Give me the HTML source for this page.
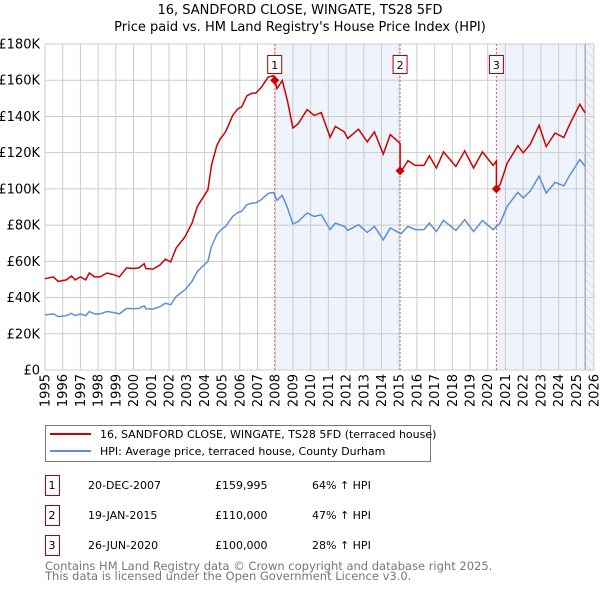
<!DOCTYPE html>
<html><head><meta charset="utf-8"><style>
body{margin:0;background:#fff;font-family:"DejaVu Sans","Liberation Sans",sans-serif;}
svg text{font-family:"DejaVu Sans","Liberation Sans",sans-serif;}
</style></head><body>
<svg id="c" width="600" height="590" xmlns="http://www.w3.org/2000/svg">
<defs><pattern id="hatch" width="6" height="6" patternUnits="userSpaceOnUse" patternTransform="rotate(-45)"><line x1="0" y1="0" x2="0" y2="6" stroke="#ccc" stroke-width="1"/></pattern></defs>
<text x="300" y="14" text-anchor="middle" font-size="13">16, SANDFORD CLOSE, WINGATE, TS28 5FD</text>
<text x="300" y="31" text-anchor="middle" font-size="13">Price paid vs. HM Land Registry's House Price Index (HPI)</text>
<g id="plot"></g>
<g>
<rect x="45.5" y="425.5" width="385" height="36" fill="#fff" stroke="#777"/>
<line x1="50" y1="434" x2="91" y2="434" stroke="#cc0000" stroke-width="2"/>
<text x="100" y="438" font-size="11">16, SANDFORD CLOSE, WINGATE, TS28 5FD (terraced house)</text>
<line x1="50" y1="451" x2="91" y2="451" stroke="#5b8fd6" stroke-width="2"/>
<text x="100" y="455" font-size="11">HPI: Average price, terraced house, County Durham</text>
</g>
<g id="table"></g>
<text x="45" y="570" font-size="11.5" fill="#777">Contains HM Land Registry data © Crown copyright and database right 2025.</text>
<text x="45" y="580" font-size="11.5" fill="#777">This data is licensed under the Open Government Licence v3.0.</text>
</svg>
<script>
const hpiYears=[1995.0,1995.47,1995.75,1996.2,1996.5,1996.7,1997.0,1997.3,1997.5,1997.8,1998.1,1998.5,1998.9,1999.2,1999.6,2000.0,2000.3,2000.6,2000.7,2001.1,2001.5,2001.8,2002.1,2002.4,2002.9,2003.3,2003.6,2003.9,2004.2,2004.4,2004.7,2004.9,2005.2,2005.6,2005.9,2006.1,2006.4,2006.7,2006.9,2007.2,2007.6,2007.9,2008.1,2008.4,2008.7,2009.0,2009.3,2009.8,2010.2,2010.6,2011.1,2011.4,2011.9,2012.1,2012.7,2013.2,2013.6,2014.1,2014.5,2015.1,2015.5,2015.9,2016.4,2016.7,2017.1,2017.5,2018.2,2018.7,2019.2,2019.7,2020.3,2020.7,2021.1,2021.7,2022.0,2022.4,2022.9,2023.3,2023.8,2024.3,2024.6,2025.2,2025.5];
const hpiValues=[30.4,31,29.5,30,31.3,30,31,30,32.3,31,31,32.3,31.7,31,34,33.8,34,35.4,33.8,33.6,35,36.9,36,40.6,44.3,48.9,54.4,57.2,60,68.2,74.7,77,79.3,84.8,87,87.6,91.3,92.2,92.2,94,97.5,98.0,93.7,96.4,89.4,80.6,82,86.7,84.8,85.7,77.5,81.1,79.3,77.1,80.2,76,79.3,71.9,78.4,75.2,79.3,77.5,77.5,81.1,76.5,82.6,77.1,83,76.5,82.6,77.5,81.1,90.4,98.1,95,98.7,107,97.7,103.6,101.7,107,116.2,112.5];
const saleYears=[2007.97,2015.05,2020.49];
const salePrices=[159.995,110,100];
const saleLabels=["1","2","3"];
const saleDates=["20-DEC-2007","19-JAN-2015","26-JUN-2020"];
const salePriceText=["£159,995","£110,000","£100,000"];
const salePct=["64% ↑ HPI","47% ↑ HPI","28% ↑ HPI"];
const yTicks=[0,20,40,60,80,100,120,140,160,180];
const xTicks=[1995,1996,1997,1998,1999,2000,2001,2002,2003,2004,2005,2006,2007,2008,2009,2010,2011,2012,2013,2014,2015,2016,2017,2018,2019,2020,2021,2022,2023,2024,2025,2026];

const X0=45,X1=594,Y0=370,Y1=44,ymax=180;
const sx=y=>X0+(y-1995)/(2026-1995)*(X1-X0);
const sy=v=>Y0-v/ymax*(Y0-Y1);
const NS="http://www.w3.org/2000/svg";
const plot=document.getElementById('plot');
function mk(tag,attrs,parent){const e=document.createElementNS(NS,tag);for(const k in attrs)e.setAttribute(k,attrs[k]);(parent||plot).appendChild(e);return e;}
function hpiAt(t){for(let i=0;i<hpiYears.length-1;i++){if(t>=hpiYears[i]&&t<=hpiYears[i+1]){const f=(t-hpiYears[i])/(hpiYears[i+1]-hpiYears[i]);return hpiValues[i]+f*(hpiValues[i+1]-hpiValues[i]);}}return hpiValues[hpiValues.length-1];}

let s1=mk('rect',{x:sx(saleYears[0]),y:Y1,width:sx(saleYears[1])-sx(saleYears[0]),height:Y0-Y1,fill:'#eef3fc'});


let s2=mk('rect',{x:sx(saleYears[2]),y:Y1,width:X1-sx(saleYears[2]),height:Y0-Y1,fill:'#eef3fc'});


const lastT=hpiYears[hpiYears.length-1];
let h=mk('rect',{x:sx(lastT),y:Y1,width:X1-sx(lastT),height:Y0-Y1,fill:'url(#hatch)'});


mk('line',{x1:sx(lastT),y1:Y1,x2:sx(lastT),y2:Y0,stroke:'#888','stroke-width':1});

xTicks.forEach(t=>{const x=sx(t);
 let g=mk('line',{x1:x,y1:Y1,x2:x,y2:Y0,stroke:'#cccccc','stroke-width':1});
 
 
 let tx=mk('text',{x:0,y:0,'font-size':13,'text-anchor':'end',transform:`translate(${x+4.5},${Y0+4}) rotate(-90)`});
 tx.textContent=t;
 
 
});
yTicks.forEach(v=>{const y=sy(v);
 let g=mk('line',{x1:X0,y1:y,x2:X1,y2:y,stroke:'#cccccc','stroke-width':1});
 
 
 let tx=mk('text',{x:40,y:y+4.5,'font-size':13,'text-anchor':'end'});
 tx.textContent=v===0?'£0':'£'+v+'K';
 
 
});

saleYears.forEach((t,i)=>{
 let l=mk('line',{x1:sx(t),y1:Y1,x2:sx(t),y2:Y0,stroke:'#e06060','stroke-width':1,'stroke-dasharray':'2,2'});
 
 
});

const hp=hpiYears.map((t,i)=>sx(t).toFixed(1)+','+sy(hpiValues[i]).toFixed(1)).join(' ');
let hl=mk('polyline',{points:hp,fill:'none',stroke:'#5b8fd6','stroke-width':1.5});


const factors=saleYears.map((t,i)=>salePrices[i]/hpiAt(t));
let pts=[];
function seg(a,b,f){pts.push([a,hpiAt(a)*f]);hpiYears.forEach((t,i)=>{if(t>a&&t<b)pts.push([t,hpiValues[i]*f]);});}
seg(hpiYears[0],saleYears[0],factors[0]);
for(let k=0;k<saleYears.length;k++){
 const end=k+1<saleYears.length?saleYears[k+1]:lastT+0.001;
 if(k>0){pts.push([saleYears[k],hpiAt(saleYears[k])*factors[k-1]]);}
 seg(saleYears[k],end,factors[k]);
}
pts.push([lastT,hpiAt(lastT)*factors[factors.length-1]]);
let rl=mk('polyline',{points:pts.map(p=>sx(p[0]).toFixed(1)+','+sy(p[1]).toFixed(1)).join(' '),fill:'none',stroke:'#cc0000','stroke-width':1.5});



saleYears.forEach((t,i)=>{const x=sx(t),y=sy(salePrices[i]);
 let d=mk('path',{d:`M${x},${y-4.5} L${x+4.5},${y} L${x},${y+4.5} L${x-4.5},${y} Z`,fill:'#cc0000'});
 
 
 let b=mk('rect',{x:x-7,y:55.5,width:14,height:18,fill:'#fff',stroke:'#b00000'});
 
 
 let tx=mk('text',{x:x,y:69,'font-size':11,'text-anchor':'middle'});
 tx.textContent=saleLabels[i];
 
 
});

const tb=document.getElementById('table');
saleLabels.forEach((lab,i)=>{const y=475+i*30;
 let r=mk('rect',{x:45.5,y:y+0.5,width:14,height:20,fill:'#fff',stroke:'#b00000'},tb);
 
 
 const cells=[[52,lab,'middle'],[88,saleDates[i],'start'],[215,salePriceText[i],'start'],[312,salePct[i],'start']];
 cells.forEach(c=>{let t=mk('text',{x:c[0],y:y+14,'font-size':11,'text-anchor':c[2]},tb);t.textContent=c[1];
  
  });
});
</script>
</body></html>
